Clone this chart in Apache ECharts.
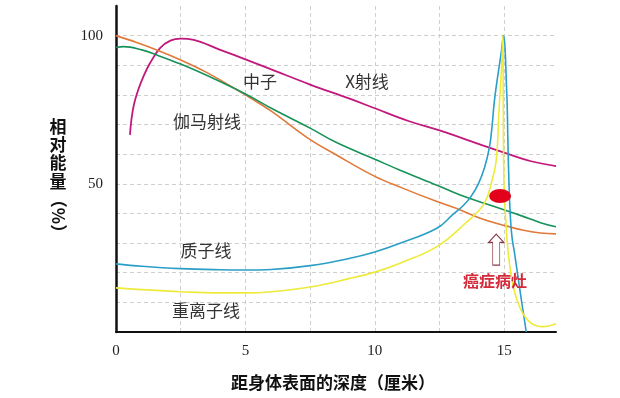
<!DOCTYPE html>
<html>
<head>
<meta charset="utf-8">
<script src="https://cdn.jsdelivr.net/npm/echarts@6/dist/echarts.min.js"></script>
<style>
html,body{margin:0;padding:0;background:#ffffff;}
#chart{width:620px;height:398px;}
</style>
</head>
<body>
<div id="chart"></div>
<script>
// ---- tick labels ----
const xTickLabels = [0, 5, 10, 15];
const yTickLabels = [50, 100];

// ---- X射线 (magenta) ----
const xrayDepth = [0.54, 0.6, 0.7, 0.85, 1.05, 1.3, 1.7, 2.1, 2.5, 3.0, 4.0, 5.0, 6.0, 7.5, 9.0, 10.0, 11.3, 12.5, 14.0, 15.0, 16.0, 17.0];
const xrayDose  = [66.5, 72, 77, 81.5, 86, 90.5, 95.8, 98.3, 99, 98.6, 95.3, 92, 88.6, 83.5, 78.8, 75.5, 71.2, 68, 63.5, 60.5, 57.7, 56];

// ---- orange curve ----
const orangeDepth = [0, 0.8, 1.6, 2.5, 3.5, 5.0, 6.0, 7.4, 8.5, 10.0, 11.0, 12.4, 13.3, 14.1, 14.9, 15.7, 16.4, 17.0];
const orangeDose  = [100, 97.7, 95.1, 91.8, 87.6, 80, 74.5, 65.5, 59.8, 52.5, 48.8, 44, 41.2, 38.3, 36.2, 34.4, 33.4, 33.1];

// ---- green curve ----
const greenDepth = [0, 0.3, 1.0, 1.6, 2.5, 3.5, 5.0, 6.0, 7.5, 8.5, 10.0, 11.0, 12.4, 13.3, 14.1, 14.9, 15.7, 16.4, 17.0];
const greenDose  = [96, 96.3, 95.2, 93.4, 90.4, 86.6, 80.3, 75.5, 68.8, 64, 58.3, 54.5, 49.5, 46.2, 43.8, 41.5, 39.1, 36.9, 35.5];

// ---- 质子线 (cyan) ----
const protonDepth = [0, 1, 2.5, 4, 5, 6, 7.5, 9, 10, 11, 12.4, 13.0, 13.4, 13.7, 14.0, 14.24, 14.43, 14.53, 14.62, 14.76, 14.88, 14.97, 15.1, 15.14, 15.18, 15.23, 15.3, 15.4, 15.6, 15.85];
const protonDose  = [23, 22.2, 21.4, 21, 20.9, 21.1, 22.4, 24.8, 27, 30, 35, 39.5, 42.5, 45.5, 50, 55.5, 62.5, 69.5, 78, 87, 94, 100, 80, 65, 51, 40, 32, 26.5, 14.5, 0];

// ---- 重离子线 (yellow) ----
const ionDepth = [0, 1, 2.5, 4, 5, 6, 7.5, 9, 10, 11, 12.4, 13.5, 14.2, 14.5, 14.69, 14.8, 14.9, 14.95, 14.96, 14.97, 14.99, 15.03, 15.15, 15.35, 15.65, 16.05, 16.5, 17];
const ionDose  = [14.9, 14.3, 13.6, 13.2, 13.2, 13.6, 15.2, 18, 20.2, 23.3, 28.8, 36.7, 43, 50.2, 58, 75, 90, 100, 85, 65, 50, 42, 27, 15.3, 7.4, 2.9, 1.8, 2.8];

// ---- annotations ----
const lesionPoint = [14.84, 45.9];
const arrowPoint = [14.69, 27.8];

function pairs(xs, ys) { return xs.map((x, i) => [x, ys[i]]); }

const chart = echarts.init(document.getElementById('chart'), null, { renderer: 'canvas' });

function lineSeries(name, xs, ys, color, width) {
  return {
    name: name,
    type: 'line',
    data: pairs(xs, ys),
    symbol: 'none',
    smooth: 0.4,
    lineStyle: { color: color, width: width },
    z: 3,
    silent: true
  };
}

const labelFont = '17px "Noto Sans CJK SC", "Noto Sans", sans-serif';
const titleFont = 'bold 17px "Noto Sans CJK SC", "Noto Sans", sans-serif';

function txt(text, x, y, font, fill) {
  return {
    type: 'text',
    x: x, y: y,
    style: { text: text, x: 0, y: 0, font: font, fill: fill, textAlign: 'center', textVerticalAlign: 'middle' },
    z: 10
  };
}

const option = {
  animation: false,
  backgroundColor: '#ffffff',
  grid: { left: 116, right: 64, top: 6, bottom: 66, containLabel: false },
  xAxis: {
    type: 'value', min: 0, max: 17, interval: 2.5,
    axisLine: { show: true, onZero: false, lineStyle: { color: '#111', width: 2 } },
    axisTick: { show: false },
    axisLabel: {
      formatter: v => (xTickLabels.indexOf(v) >= 0 ? String(v) : ''),
      color: '#222', fontFamily: '"Liberation Serif", serif', fontSize: 15, margin: 12
    },
    splitLine: { show: true, showMinLine: false, showMaxLine: false, lineStyle: { color: '#cfcfcf', type: [4, 3], width: 1 } }
  },
  yAxis: {
    type: 'value', min: 0, max: 110, interval: 10,
    axisLine: { show: true, lineStyle: { color: '#111', width: 2.5 } },
    axisTick: { show: false },
    axisLabel: {
      formatter: v => (yTickLabels.indexOf(v) >= 0 ? String(v) : ''),
      color: '#222', fontFamily: '"Liberation Serif", serif', fontSize: 15, margin: 13
    },
    splitLine: { show: true, showMinLine: false, showMaxLine: false, lineStyle: { color: '#cfcfcf', type: [4, 3], width: 1 } }
  },
  series: [
    lineSeries('X射线', xrayDepth, xrayDose, '#c2187c', 1.8),
    lineSeries('orange', orangeDepth, orangeDose, '#e0793a', 1.6),
    lineSeries('green', greenDepth, greenDose, '#17925a', 1.6),
    lineSeries('质子线', protonDepth, protonDose, '#2a9ec6', 1.6),
    lineSeries('重离子线', ionDepth, ionDose, '#eeea3a', 1.6),
    {
      type: 'scatter', data: [lesionPoint], symbol: 'circle', symbolSize: [22, 14],
      itemStyle: { color: '#e3001b', opacity: 1 }, z: 6, silent: true
    },
    {
      type: 'scatter', data: [arrowPoint],
      symbol: 'path://M7.5,0 L15,8 L11,8 L11,30 L4,30 L4,8 L0,8 Z', symbolSize: [15, 31],
      itemStyle: { color: '#ffffff', borderColor: '#8a3a4a', borderWidth: 1, opacity: 1 }, z: 6, silent: true
    }
  ],
  graphic: [
    txt('中子', 260, 82, labelFont, '#333'),
    txt('X射线', 367, 82, labelFont, '#333'),
    txt('伽马射线', 207, 122, labelFont, '#333'),
    txt('质子线', 206, 251, labelFont, '#333'),
    txt('重离子线', 206, 311, labelFont, '#333'),
    txt('癌症病灶', 495, 281, 'bold 16px "Noto Sans CJK SC", sans-serif', '#d42a3a'),
    txt('相', 58, 127, titleFont, '#111'),
    txt('对', 58, 145, titleFont, '#111'),
    txt('能', 58, 163, titleFont, '#111'),
    txt('量', 58, 182, titleFont, '#111'),
    {
      type: 'text', x: 58, y: 216, rotation: -Math.PI / 2,
      style: { text: '（%）', x: 0, y: 0, font: titleFont, fill: '#111', textAlign: 'center', textVerticalAlign: 'middle' },
      z: 10
    },
    txt('距身体表面的深度（厘米）', 333, 383, 'bold 17px "Noto Sans CJK SC", sans-serif', '#111')
  ]
};

chart.setOption(option);
</script>
</body>
</html>
